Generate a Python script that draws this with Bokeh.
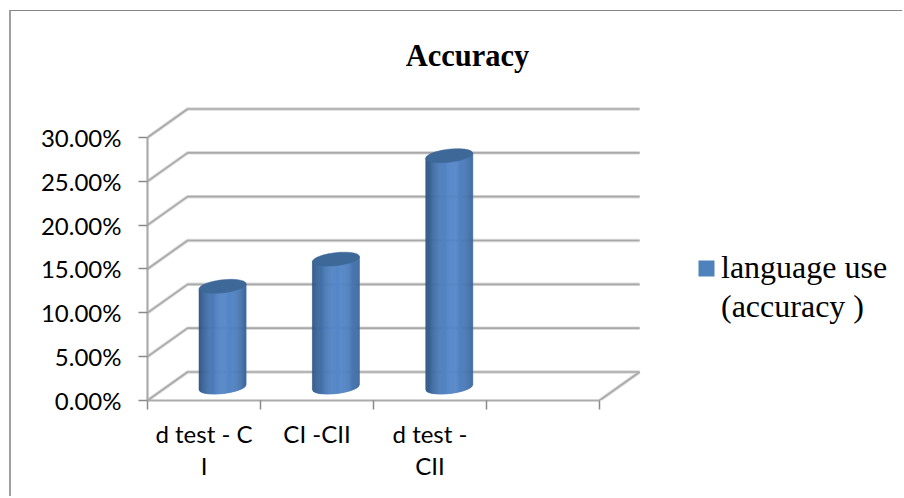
import numpy as np
from bokeh.embed import file_html
from bokeh.models import (FixedTicker, Label, Legend, LegendItem, LinearAxis,
                          PrintfTickFormatter, Range1d)
from bokeh.plotting import figure
from bokeh.resources import INLINE

# Chart values
TITLE = "Accuracy"
SERIES_LINES = ["language use", "(accuracy )"]
CATEGORIES = ["d test - C\nI", "CI -CII", "d test -\nCII", ""]
VALUES = [11.4, 14.5, 26.3]
Y_TICKS = [0, 5, 10, 15, 20, 25, 30]

# 3D projection of the wall and floor, in axis units
DEPTH_X = 0.355
DEPTH_Y = 3.25
N_CATS = 4

GRID = "#a9a9a9"
GRID_SOFT = "#dcdcdc"
BLUE = "#4f81bd"

# The plot area runs to the page edge so the title and key sit inside it
p = figure(width=893, height=486, output_backend="svg", toolbar_location=None,
           x_range=Range1d(0, 6.699), y_range=Range1d(0, 44.37),
           x_axis_type=None, y_axis_type=None,
           min_border_left=136, min_border_right=0, min_border_top=0, min_border_bottom=97)
p.margin = (10, 0, 0, 9)
p.styles = {"border-top": "1.5px solid #868686", "border-left": "2px solid #a0a0a0"}
p.outline_line_color = None
p.grid.visible = False
p.background_fill_color = None

# Gridlines across the back wall and down the side wall
xs, ys = [], []
for v in Y_TICKS:
    xs.append([0, DEPTH_X, N_CATS + DEPTH_X])
    ys.append([v, v + DEPTH_Y, v + DEPTH_Y])
xs.append([N_CATS, N_CATS + DEPTH_X])
ys.append([0, DEPTH_Y])
p.multi_line(xs, ys, line_color=GRID_SOFT, line_width=3.5)
p.multi_line(xs, ys, line_color=GRID, line_width=1.6)

# Axes
ya = LinearAxis(ticker=FixedTicker(ticks=Y_TICKS), formatter=PrintfTickFormatter(format="%.2f%%"),
                bounds=(0, 30), axis_line_color="#ababab", axis_line_width=2.2,
                major_tick_line_color="#8a8a8a", major_tick_line_width=1.5,
                major_tick_in=0, major_tick_out=9, minor_tick_line_color=None,
                major_label_text_font="Lato", major_label_text_font_size="24px",
                major_label_text_color="#000000", major_label_standoff=17)
p.add_layout(ya, "left")
xa = LinearAxis(ticker=FixedTicker(ticks=[i + 0.5 for i in range(N_CATS)], minor_ticks=list(range(N_CATS + 1))),
                bounds=(0, N_CATS), axis_line_color="#ababab", axis_line_width=2.2,
                major_tick_line_color=None, major_tick_in=0, major_tick_out=0,
                minor_tick_line_color="#8a8a8a", minor_tick_line_width=1.5,
                minor_tick_in=0, minor_tick_out=9,
                major_label_overrides={i + 0.5: c for i, c in enumerate(CATEGORIES)},
                major_label_text_font="Lato", major_label_text_font_size="24px",
                major_label_text_color="#000000", major_label_standoff=9,
                major_label_text_line_height=1.12)
p.add_layout(xa, "below")

# Cylinders: vertical strips shaded dark at the rims, lightest right of centre
RADIUS = 0.208
PX_Y = 8.767
ELL_B = 6.5 / PX_Y
TILT = 2.5 / PX_Y
STRIPS = 44
DARK = np.array([0x2f, 0x55, 0x84])
LIGHT = np.array([0x56, 0x88, 0xc9])


def rim(t, sign):
    return TILT * t + sign * ELL_B * np.sqrt(np.clip(1 - t * t, 0, 1))


edges = np.linspace(-1, 1, STRIPS + 1)
for i, v in enumerate(VALUES):
    cx = i + 0.5 + DEPTH_X / 2 - 0.013 + 0.003 * i
    y0 = DEPTH_Y / 2 - 0.1
    y1 = v + DEPTH_Y / 2
    sx, sy, sc = [], [], []
    for a, b in zip(edges[:-1], edges[1:]):
        m = (a + b) / 2
        d = abs(m - 0.12) / 1.12
        mix = np.clip(1 - d ** 1.9, 0, 1)
        col = DARK + (LIGHT - DARK) * mix
        sx.append([cx + RADIUS * a, cx + RADIUS * b, cx + RADIUS * b, cx + RADIUS * a])
        sy.append([y0 + rim(a, -1), y0 + rim(b, -1), y1 + rim(b, 0), y1 + rim(a, 0)])
        sc.append("#%02x%02x%02x" % tuple(int(c) for c in col))
    p.patches(sx, sy, fill_color=sc, line_color=sc, line_width=0.6)
    t = np.linspace(0, 2 * np.pi, 80)
    p.patch(cx + RADIUS * np.cos(t), y1 + TILT * np.cos(t) + ELL_B * np.sin(t),
            fill_color="#3d6898", line_color="#3d6898", line_width=0.5)

# Series key: unplotted quads that only supply the swatch and the blank second row
key = p.quad(left=[np.nan], right=[np.nan], top=[np.nan], bottom=[np.nan], fill_color=BLUE, line_color=None)
blank = p.quad(left=[np.nan], right=[np.nan], top=[np.nan], bottom=[np.nan], fill_alpha=0, line_color=None)
legend = Legend(items=[LegendItem(label=SERIES_LINES[0], renderers=[key]),
                       LegendItem(label=SERIES_LINES[1], renderers=[blank])],
                location=(549, 75), border_line_color=None, background_fill_alpha=0,
                glyph_width=20, glyph_height=20, label_height=37, spacing=2,
                label_text_font="Liberation Serif", label_text_font_size="32px",
                label_text_color="#000000", padding=0, margin=0, label_standoff=5)
p.add_layout(legend, "center")

p.add_layout(Label(x=320, y=345, x_units="screen", y_units="screen", text=TITLE, text_align="center",
                   text_baseline="middle", text_font="Liberation Serif", text_font_style="bold",
                   text_font_size="30.5px", text_color="#000000"))

open("out.html", "w").write(file_html(p, INLINE))
